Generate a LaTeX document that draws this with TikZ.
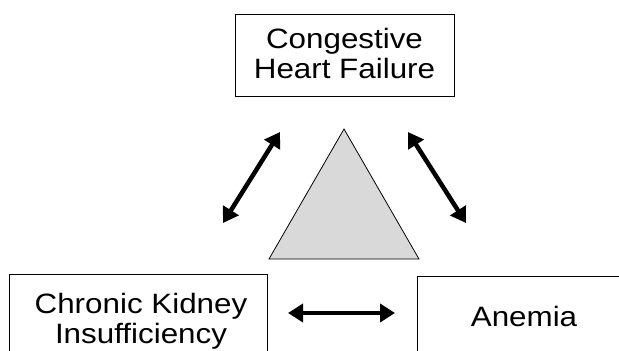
\documentclass[tikz,border=0pt]{standalone}
\usepackage{fontspec}
\setmainfont[FakeStretch=1.12]{Liberation Sans}
\usetikzlibrary{arrows.meta}
\begin{document}
\begin{tikzpicture}[x=1pt,y=-1pt,
  box/.style={draw=black,line width=1pt,fill=white},
  lbl/.style={font=\fontsize{28}{30}\selectfont,align=center,inner sep=0pt,anchor=base},
  dbl/.style={line width=4.5pt,{Triangle[length=15pt,width=18pt]}-{Triangle[length=15pt,width=18pt]}}]
\useasboundingbox (0,0) rectangle (619,351);
\clip (0,0) rectangle (619,351);
% boxes
\draw[box] (235,14) rectangle (454,96);
\node[lbl] (chf) at (344.5,78) {Congestive\\Heart Failure};
\draw[box] (9,274) rectangle (267,370);
\node[lbl] (cki) at (141,343) {Chronic Kidney\\Insufficiency};
\draw[box] (417,276) rectangle (650,370);
\node[lbl] (an) at (524,326) {Anemia};
% triangle
\draw[fill={rgb,255:red,217;green,217;blue,217},line width=0.8pt,line join=miter] (344,129) -- (419,259) -- (269,259) -- cycle;
% arrows
\coordinate (a1) at (280,132);
\coordinate (a2) at (223,223);
\coordinate (b1) at (408,132);
\coordinate (b2) at (466,223);
\coordinate (c1) at (288,313);
\coordinate (c2) at (395,313);
\draw[dbl] (a1) -- (a2);
\draw[dbl] (b1) -- (b2);
\draw[dbl] (c1) -- (c2);
\end{tikzpicture}
\end{document}
